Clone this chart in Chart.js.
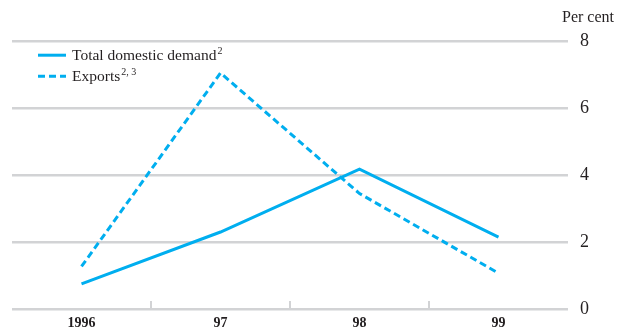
<!DOCTYPE html>
<html>
<head>
<meta charset="utf-8">
<script src="https://cdn.jsdelivr.net/npm/chart.js@4.4.1/dist/chart.umd.min.js"></script>
<style>
  html, body { margin: 0; padding: 0; background: #fff; overflow: hidden; }
  canvas { display: block; }
</style>
</head>
<body>
<canvas id="chart1" width="620" height="329"></canvas>
<script>
// data
var years = ["1996", "97", "98", "99"];
var domesticDemand = [0.75, 2.3, 4.18, 2.15];
var exportsGrowth = [1.27, 7.05, 3.45, 1.07];
var yTicks = [0, 2, 4, 6, 8];
var seriesNames = ["Total domestic demand", "Exports"];
var seriesNotes = ["2", "2, 3"];

var lineColor = "#00aeef";
var textColor = "#231f20";
var gridColor = "#d2d3d5";
var serif = "'Liberation Serif', 'Times New Roman', serif";

// draws legend top-left with superscript notes
var noteLegend = {
  id: "noteLegend",
  afterDatasetsDraw: function (chart) {
    var ctx = chart.ctx;
    var x0 = chart.chartArea.left + 26;
    var y0 = chart.chartArea.top + 14;
    chart.data.datasets.forEach(function (ds, i) {
      var y = y0 + i * 21;
      ctx.save();
      ctx.strokeStyle = ds.borderColor;
      ctx.lineWidth = 3;
      ctx.setLineDash(ds.borderDash || []);
      ctx.beginPath();
      ctx.moveTo(x0, y);
      ctx.lineTo(x0 + 28, y);
      ctx.stroke();
      ctx.setLineDash([]);
      ctx.fillStyle = textColor;
      ctx.textBaseline = "alphabetic";
      ctx.font = "15.5px " + serif;
      ctx.fillText(ds.label, x0 + 34, y + 5);
      var w = ctx.measureText(ds.label).width;
      ctx.font = "10px " + serif;
      ctx.fillText(seriesNotes[i], x0 + 35 + w, y - 1);
      ctx.restore();
    });
  },
};

// short tick marks standing up from the zero line between years
var boundaryTicks = {
  id: "boundaryTicks",
  afterDraw: function (chart) {
    var ctx = chart.ctx;
    var xs = chart.scales.x;
    var bottom = chart.chartArea.bottom;
    ctx.save();
    ctx.strokeStyle = gridColor;
    ctx.lineWidth = 2;
    for (var i = 0; i < years.length - 1; i++) {
      var px = (xs.getPixelForValue(i) + xs.getPixelForValue(i + 1)) / 2;
      ctx.beginPath();
      ctx.moveTo(px, bottom);
      ctx.lineTo(px, bottom - 8);
      ctx.stroke();
    }
    ctx.restore();
  },
};

const ctx = document.getElementById("chart1");

var myChart = new Chart(ctx, {
  type: "line",
  data: {
    labels: years,
    datasets: [
      {
        label: seriesNames[0],
        data: domesticDemand,
        borderColor: lineColor,
        backgroundColor: lineColor,
        borderWidth: 3,
        pointRadius: 0,
        tension: 0,
      },
      {
        label: seriesNames[1],
        data: exportsGrowth,
        borderColor: lineColor,
        backgroundColor: lineColor,
        borderWidth: 3,
        borderDash: [7, 4],
        pointRadius: 0,
        tension: 0,
      },
    ],
  },
  options: {
    responsive: false,
    animation: false,
    events: [],
    devicePixelRatio: 1,
    layout: {
      autoPadding: false,
      padding: { left: 12, right: 6, top: 0, bottom: 0 },
    },
    plugins: {
      legend: { display: false },
      tooltip: { enabled: false },
      title: {
        display: true,
        text: "Per cent",
        align: "end",
        color: textColor,
        font: { family: serif, size: 16, weight: "normal" },
        padding: { top: 8, bottom: 14 },
      },
    },
    scales: {
      x: {
        type: "category",
        offset: true,
        grid: { display: false, drawTicks: false },
        border: { display: false },
        ticks: {
          color: textColor,
          padding: 6,
          maxRotation: 0,
          font: { family: serif, size: 14, weight: "bold" },
        },
        afterFit: function (scale) {
          scale.height = 20;
        },
      },
      y: {
        position: "right",
        min: 0,
        max: 8,
        afterBuildTicks: function (scale) {
          scale.ticks = yTicks.map(function (v) {
            return { value: v };
          });
        },
        grid: {
          color: gridColor,
          lineWidth: 2.5,
          drawTicks: false,
        },
        border: { display: false },
        ticks: {
          color: textColor,
          padding: 12,
          font: { family: serif, size: 18 },
        },
        afterFit: function (scale) {
          scale.width = 46;
          // labels may overhang; keep them from pushing the plot up
          scale.paddingTop = 0;
          scale.paddingBottom = 0;
        },
      },
    },
  },
  plugins: [noteLegend, boundaryTicks],
});
</script>
</body>
</html>
